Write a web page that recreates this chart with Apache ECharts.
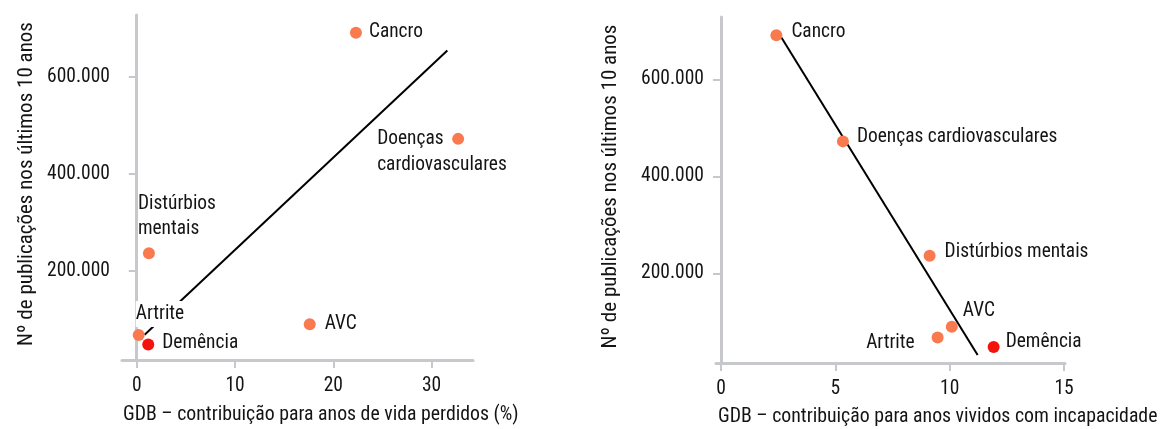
<!DOCTYPE html>
<html>
<head>
<meta charset="utf-8">
<script src="https://cdn.jsdelivr.net/npm/echarts@6/dist/echarts.min.js"></script>
<style>
  html, body { margin: 0; padding: 0; background: #fff; }
  #chart { width: 1161px; height: 429px; }
</style>
</head>
<body>
<div id="chart"></div>
<script>
// ---- data ----
var diseases = ['Cancro', 'Doenças cardiovasculares', 'Distúrbios mentais', 'Artrite', 'Demência', 'AVC'];
var publications = [691000, 472000, 236000, 67800, 48000, 90000];
var yllShare = [22.3, 32.7, 1.24, 0.2, 1.17, 17.6];      // % anos de vida perdidos
var yldShare = [2.42, 5.33, 9.12, 9.47, 11.92, 10.09];   // % anos vividos com incapacidade
var trendLeftX = [0.8, 31.6];
var trendLeftY = [68000, 654000];
var trendRightX = [2.64, 11.22];
var trendRightY = [686000, 31500];
var xTicksLeft = [0, 10, 20, 30];
var xTicksRight = [0, 5, 10, 15];
var yTicks = [200000, 400000, 600000];
var xTitleLeft = 'GDB – contribuição para anos de vida perdidos (%)';
var xTitleRight = 'GDB – contribuição para anos vividos com incapacidade';
var yTitle = 'Nº de publicações nos últimos 10 anos';

// ---- font selection (condensed face if available) ----
var ctx = document.createElement('canvas').getContext('2d');
function hasFont(name) {
  var s = 'abcdefghijklmnopqrstuvwxyzABCDEFGHIJ0123456789';
  ctx.font = '40px monospace'; var w1 = ctx.measureText(s).width;
  ctx.font = '40px serif'; var w2 = ctx.measureText(s).width;
  ctx.font = '40px "' + name + '", monospace'; var a = ctx.measureText(s).width;
  ctx.font = '40px "' + name + '", serif'; var b = ctx.measureText(s).width;
  return a !== w1 || b !== w2;
}
var candidates = ['Roboto Condensed', 'Liberation Sans Narrow', 'Arial Narrow', 'Open Sans Condensed',
  'Noto Sans Condensed', 'DejaVu Sans Condensed', 'Roboto', 'Liberation Sans'];
var FONT = 'sans-serif';
for (var k = 0; k < candidates.length; k++) {
  if (hasFont(candidates[k])) { FONT = '"' + candidates[k] + '"'; break; }
}
function fit(text, target, maxSize) {
  ctx.font = '100px ' + FONT;
  var fs = target / (ctx.measureText(text).width / 100);
  return Math.min(maxSize, Math.round(fs * 10) / 10);
}
var FS_LABEL = fit('cardiovasculares', 130, 21);
var FS_TICK = fit('600.000', 63, 21);
var FS_YTITLE = fit(yTitle, 328, 21);
var FS_XTL = fit(xTitleLeft, 396, 21);
var FS_XTR = fit(xTitleRight, 440, 21);

// ---- styles ----
var TXT = '#141414';
var AXIS = '#c6c8cc';
var ORANGE = '#fa7a50';
var RED = '#f3130c';

var labelsLeft = {
  'Cancro': { position: 'right', distance: 7 },
  'Doenças cardiovasculares': { text: 'Doenças\ncardiovasculares', position: [-75, -7], align: 'left', verticalAlign: 'top', lineHeight: 26 },
  'Distúrbios mentais': { text: 'Distúrbios\nmentais', position: [-5, -56], align: 'left', verticalAlign: 'top', lineHeight: 25 },
  'Artrite': { position: [3, -28], align: 'left', verticalAlign: 'top', lineHeight: 26, backgroundColor: '#fff' },
  'Demência': { position: 'right', distance: 8, offset: [0, -1] },
  'AVC': { position: 'right', distance: 9 }
};
var labelsRight = {
  'Cancro': { position: 'right', distance: 9, offset: [0, -3] },
  'Doenças cardiovasculares': { position: 'right', distance: 8, offset: [0, -4] },
  'Distúrbios mentais': { position: 'right', distance: 9, offset: [0, -4] },
  'Artrite': { position: 'left', distance: 17, offset: [0, 6] },
  'Demência': { position: 'right', distance: 6, offset: [0, -5] },
  'AVC': { position: [17, -9], align: 'left', verticalAlign: 'middle' }
};

function buildPoints(xs, labels) {
  return diseases.map(function (name, i) {
    var l = labels[name];
    var lab = {
      show: true,
      formatter: l.text || name,
      position: l.position,
      color: TXT,
      fontFamily: FONT,
      fontSize: FS_LABEL
    };
    if (l.distance !== undefined) lab.distance = l.distance;
    if (l.offset) lab.offset = l.offset;
    if (l.align) lab.align = l.align;
    if (l.verticalAlign) lab.verticalAlign = l.verticalAlign;
    if (l.lineHeight) lab.lineHeight = l.lineHeight;
    if (l.backgroundColor) lab.backgroundColor = l.backgroundColor;
    return {
      name: name,
      value: [xs[i], publications[i]],
      itemStyle: { color: name === 'Demência' ? RED : ORANGE, opacity: 1 },
      label: lab
    };
  });
}

function pairs(xs, ys) { return xs.map(function (x, i) { return [x, ys[i]]; }); }

function xAxisCfg(idx, min, max, ticks) {
  return {
    type: 'value', gridIndex: idx, min: min, max: max,
    splitLine: { show: false },
    axisLine: { show: true, lineStyle: { color: AXIS, width: 3 } },
    axisTick: { show: true, customValues: ticks, length: 8, lineStyle: { color: AXIS, width: 2 } },
    axisLabel: { customValues: ticks, margin: 16, color: TXT, fontFamily: FONT, fontSize: FS_TICK }
  };
}
function yAxisCfg(idx, min, max, gap) {
  return {
    type: 'value', gridIndex: idx, min: min, max: max,
    splitLine: { show: false },
    axisLine: { show: true, lineStyle: { color: AXIS, width: 3 } },
    axisTick: { show: true, customValues: yTicks, length: 8, lineStyle: { color: AXIS, width: 2 } },
    axisLabel: { customValues: yTicks, margin: 12, color: TXT, fontFamily: FONT, fontSize: FS_TICK,
      formatter: function (v) { return (v / 1000).toFixed(0) + '.000'; } },
    name: yTitle, nameLocation: 'middle', nameRotate: 90, nameGap: gap,
    nameTextStyle: { color: TXT, fontFamily: FONT, fontSize: FS_YTITLE, padding: [0, 0, 0, 7] }
  };
}

var chart = echarts.init(document.getElementById('chart'), null, { renderer: 'canvas' });
chart.setOption({
  backgroundColor: '#fff',
  animation: false,
  title: [
    { text: xTitleLeft, left: 123, top: 405, padding: 0,
      textStyle: { color: TXT, fontFamily: FONT, fontSize: FS_XTL, fontWeight: 'normal', lineHeight: 20 } },
    { text: xTitleRight, left: 718, top: 407, padding: 0,
      textStyle: { color: TXT, fontFamily: FONT, fontSize: FS_XTR, fontWeight: 'normal', lineHeight: 20 } }
  ],
  grid: [
    { left: 122, top: 15, width: 351, height: 345, outerBoundsMode: 'none', containLabel: false },
    { left: 716, top: 17, width: 349, height: 346, outerBoundsMode: 'none', containLabel: false }
  ],
  xAxis: [
    xAxisCfg(0, -1.5, 34.21, xTicksLeft),
    xAxisCfg(1, -0.22, 15.04, xTicksRight)
  ],
  yAxis: [
    yAxisCfg(0, 16080, 727400, 85),
    yAxisCfg(1, 15050, 728450, 95)
  ],
  series: [
    { type: 'line', xAxisIndex: 0, yAxisIndex: 0, data: pairs(trendLeftX, trendLeftY), symbol: 'none',
      lineStyle: { color: '#000', width: 2 }, z: 1, silent: true },
    { type: 'line', xAxisIndex: 1, yAxisIndex: 1, data: pairs(trendRightX, trendRightY), symbol: 'none',
      lineStyle: { color: '#000', width: 2 }, z: 1, silent: true },
    { type: 'scatter', xAxisIndex: 0, yAxisIndex: 0, symbolSize: 12, z: 3, data: buildPoints(yllShare, labelsLeft) },
    { type: 'scatter', xAxisIndex: 1, yAxisIndex: 1, symbolSize: 12, z: 3, data: buildPoints(yldShare, labelsRight) }
  ]
});
</script>
</body>
</html>
